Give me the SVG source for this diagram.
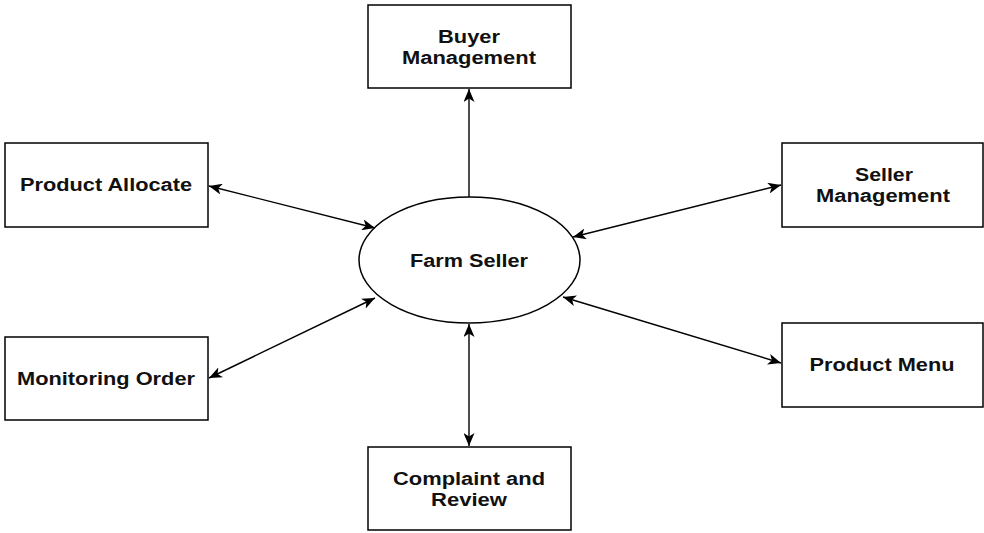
<svg xmlns="http://www.w3.org/2000/svg" width="984" height="533" viewBox="0 0 984 533">
<defs>
<marker id="arr" viewBox="0 0 13 11" refX="13" refY="5.5" markerWidth="13" markerHeight="11" markerUnits="userSpaceOnUse" orient="auto-start-reverse">
<path d="M0,0 L13,5.5 L0,11 L3.5,5.5 z" fill="#000"/>
</marker>
</defs>
<style>
.box{fill:#fff;stroke:#000;stroke-width:1.5}
.t{font-family:"Liberation Sans",Arial,sans-serif;font-weight:bold;font-size:18px;fill:#111;text-anchor:middle}
.c{stroke:#000;stroke-width:1.4;fill:none}
</style>
<rect width="984" height="533" fill="#fff"/>
<g id="connectors">
<line class="c" x1="469" y1="197" x2="469" y2="89" marker-end="url(#arr)"/>
<line class="c" x1="375" y1="228" x2="209" y2="186" marker-start="url(#arr)" marker-end="url(#arr)"/>
<line class="c" x1="573" y1="237" x2="781" y2="185" marker-start="url(#arr)" marker-end="url(#arr)"/>
<line class="c" x1="375" y1="298" x2="209" y2="378" marker-start="url(#arr)" marker-end="url(#arr)"/>
<line class="c" x1="563" y1="297" x2="781" y2="363" marker-start="url(#arr)" marker-end="url(#arr)"/>
<line class="c" x1="469" y1="324" x2="469" y2="446" marker-start="url(#arr)" marker-end="url(#arr)"/>
</g>
<g id="farm-seller">
<ellipse class="box" cx="469.5" cy="260" rx="110.5" ry="63"/>
<text class="t" x="469" y="267" textLength="118" lengthAdjust="spacingAndGlyphs">Farm Seller</text>
</g>
<g id="buyer-management">
<rect class="box" x="368" y="5" width="203" height="83"/>
<text class="t" x="469" y="43" textLength="62" lengthAdjust="spacingAndGlyphs">Buyer</text>
<text class="t" x="469" y="64" textLength="134" lengthAdjust="spacingAndGlyphs">Management</text>
</g>
<g id="product-allocate">
<rect class="box" x="5" y="143" width="203" height="84"/>
<text class="t" x="106" y="191" textLength="172" lengthAdjust="spacingAndGlyphs">Product Allocate</text>
</g>
<g id="seller-management">
<rect class="box" x="782" y="143" width="201" height="84"/>
<text class="t" x="884" y="181" textLength="58" lengthAdjust="spacingAndGlyphs">Seller</text>
<text class="t" x="883" y="202" textLength="134" lengthAdjust="spacingAndGlyphs">Management</text>
</g>
<g id="monitoring-order">
<rect class="box" x="5" y="337" width="203" height="83"/>
<text class="t" x="106" y="385" textLength="178" lengthAdjust="spacingAndGlyphs">Monitoring Order</text>
</g>
<g id="product-menu">
<rect class="box" x="782" y="323" width="201" height="84"/>
<text class="t" x="882" y="371" textLength="145" lengthAdjust="spacingAndGlyphs">Product Menu</text>
</g>
<g id="complaint-review">
<rect class="box" x="368" y="447" width="203" height="83"/>
<text class="t" x="469" y="485" textLength="152" lengthAdjust="spacingAndGlyphs">Complaint and</text>
<text class="t" x="469" y="506" textLength="76" lengthAdjust="spacingAndGlyphs">Review</text>
</g>
</svg>
